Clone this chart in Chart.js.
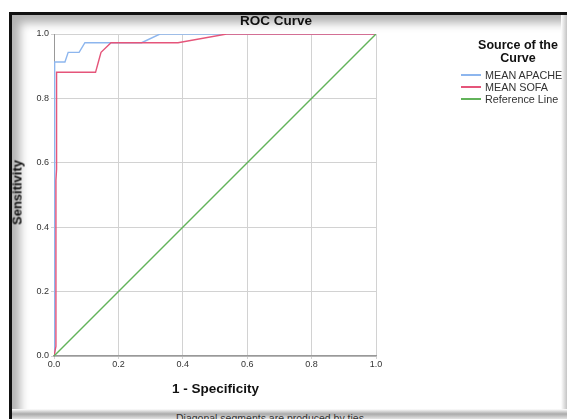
<!DOCTYPE html>
<html>
<head>
<meta charset="utf-8">
<script src="https://cdn.jsdelivr.net/npm/chart.js@4"></script>
<style>
  html, body { margin: 0; padding: 0; background: #fff; }
  body { width: 567px; height: 419px; overflow: hidden; position: relative; font-family: "Liberation Sans", Arial, sans-serif; }
  #frame { position: absolute; left: 9px; top: 12px; width: 620px; height: 420px; border-left: 3px solid #111; border-top: 3px solid #111;
    box-shadow: inset 8px 8px 10px rgba(0,0,0,0.3); }
  #bottomshade { position: absolute; left: 12px; top: 409px; width: 560px; height: 10px;
    background: linear-gradient(#fff, #aaa 50%, #e4e4e4); }
  #rightshade { position: absolute; left: 561px; top: 15px; width: 6px; height: 404px;
    background: linear-gradient(90deg, #fff, #c4c4c4); }
  canvas { position: absolute; left: 0; top: 0; }
  .lbl { position: absolute; color: #111; font-weight: bold; white-space: nowrap; }
  #legend { position: absolute; left: 457px; top: 39px; width: 122px; }
  #legend .ttl { font-weight: bold; font-size: 12.5px; text-align: center; width: 122px; line-height: 13px; color: #111; }
  #legend .item { font-size: 10.8px; color: #333; height: 12px; line-height: 12px; position: relative; padding-left: 28px; }
  #legend .item span { position: absolute; left: 4px; top: 5px; width: 20px; height: 1.5px; }
  #foot { position: absolute; left: 176px; top: 412px; font-size: 10.5px; color: #333; white-space: nowrap; z-index: 2; }
</style>
</head>
<body>
<div id="frame"></div>
<div id="rightshade"></div>
<canvas id="roc" width="567" height="419"></canvas>
<div class="lbl" style="left:240px;top:13px;font-size:13.5px;">ROC Curve</div>
<div class="lbl" style="left:172px;top:381px;font-size:13.5px;">1 - Specificity</div>
<div class="lbl" style="left:-23px;top:185px;font-size:13px;transform:rotate(-90deg);width:80px;text-align:center;">Sensitivity</div>
<div id="legend"></div>
<div id="bottomshade"></div>
<div id="foot">Diagonal segments are produced by ties.</div>
<script>
// tick values for both axes
var tickValues = [0, 0.2, 0.4, 0.6, 0.8, 1.0];
var seriesNames = ["MEAN APACHE", "MEAN SOFA", "Reference Line"];
var seriesColors = ["#8db6ee", "#e5557a", "#62b35a"];

// MEAN APACHE (1 - specificity, sensitivity)
var apacheFpr  = [0, 0,    0.003, 0.003, 0.034, 0.044, 0.078, 0.096, 0.272, 0.329, 1];
var apacheSens = [0, 0.55, 0.6,   0.913, 0.913, 0.943, 0.943, 0.973, 0.973, 1,     1];

// MEAN SOFA
var sofaFpr  = [0, 0.006, 0.006, 0.008, 0.008, 0.129, 0.138, 0.146, 0.177, 0.385, 0.536, 1];
var sofaSens = [0, 0.03,  0.545, 0.58,  0.881, 0.881, 0.914, 0.943, 0.973, 0.973, 1,     1];

// reference diagonal
var refFpr  = [0, 1];
var refSens = [0, 1];

function pts(xs, ys) {
  var out = [];
  xs.forEach((x, i) => { out.push({ x: x, y: ys[i] }); });
  return out;
}

var allX = [refFpr, sofaFpr, apacheFpr];
var allY = [refSens, sofaSens, apacheSens];
var order = [2, 1, 0]; // draw reference first, apache on top
var datasets = [];
order.forEach((k, j) => {
  datasets.push({
    label: seriesNames[k],
    data: pts(allX[j], allY[j]),
    borderColor: seriesColors[k],
    borderWidth: 1.4,
    showLine: true,
    pointRadius: 0,
    fill: false,
    tension: 0
  });
});

var legendHtml = '<div class="ttl">Source of the<br>Curve</div><div style="height:4px"></div>';
seriesNames.forEach((n, i) => {
  legendHtml += '<div class="item"><span style="background:' + seriesColors[i] + '"></span>' + n + '</div>';
});
document.getElementById("legend").innerHTML = legendHtml;

var tickFont = { family: "Liberation Sans", size: 9 };
const ctx = document.getElementById("roc").getContext("2d");
const myChart = new Chart(ctx, {
  type: "scatter",
  data: { datasets: datasets },
  options: {
    responsive: false,
    animation: false,
    devicePixelRatio: 1,
    layout: { padding: { left: 30, top: 34, right: 191, bottom: 43 } },
    plugins: { legend: { display: false }, tooltip: { enabled: false } },
    scales: {
      x: {
        type: "linear", min: 0, max: 1,
        afterBuildTicks: (s) => { s.ticks = tickValues.map(v => ({ value: v })); },
        afterFit: (s) => { s.height = 20; },
        ticks: { font: tickFont, color: "#333", padding: 0, callback: v => v.toFixed(1) },
        grid: { color: "#d2d2d2", lineWidth: 1, tickLength: 3 },
        border: { color: "#999", width: 1.5 }
      },
      y: {
        type: "linear", min: 0, max: 1,
        afterBuildTicks: (s) => { s.ticks = tickValues.map(v => ({ value: v })); },
        afterFit: (s) => { s.width = 24; },
        ticks: { font: tickFont, color: "#333", padding: 2, callback: v => v.toFixed(1) },
        grid: { color: "#d2d2d2", lineWidth: 1, tickLength: 3 },
        border: { color: "#999", width: 1 }
      }
    }
  }
});
</script>
</body>
</html>
